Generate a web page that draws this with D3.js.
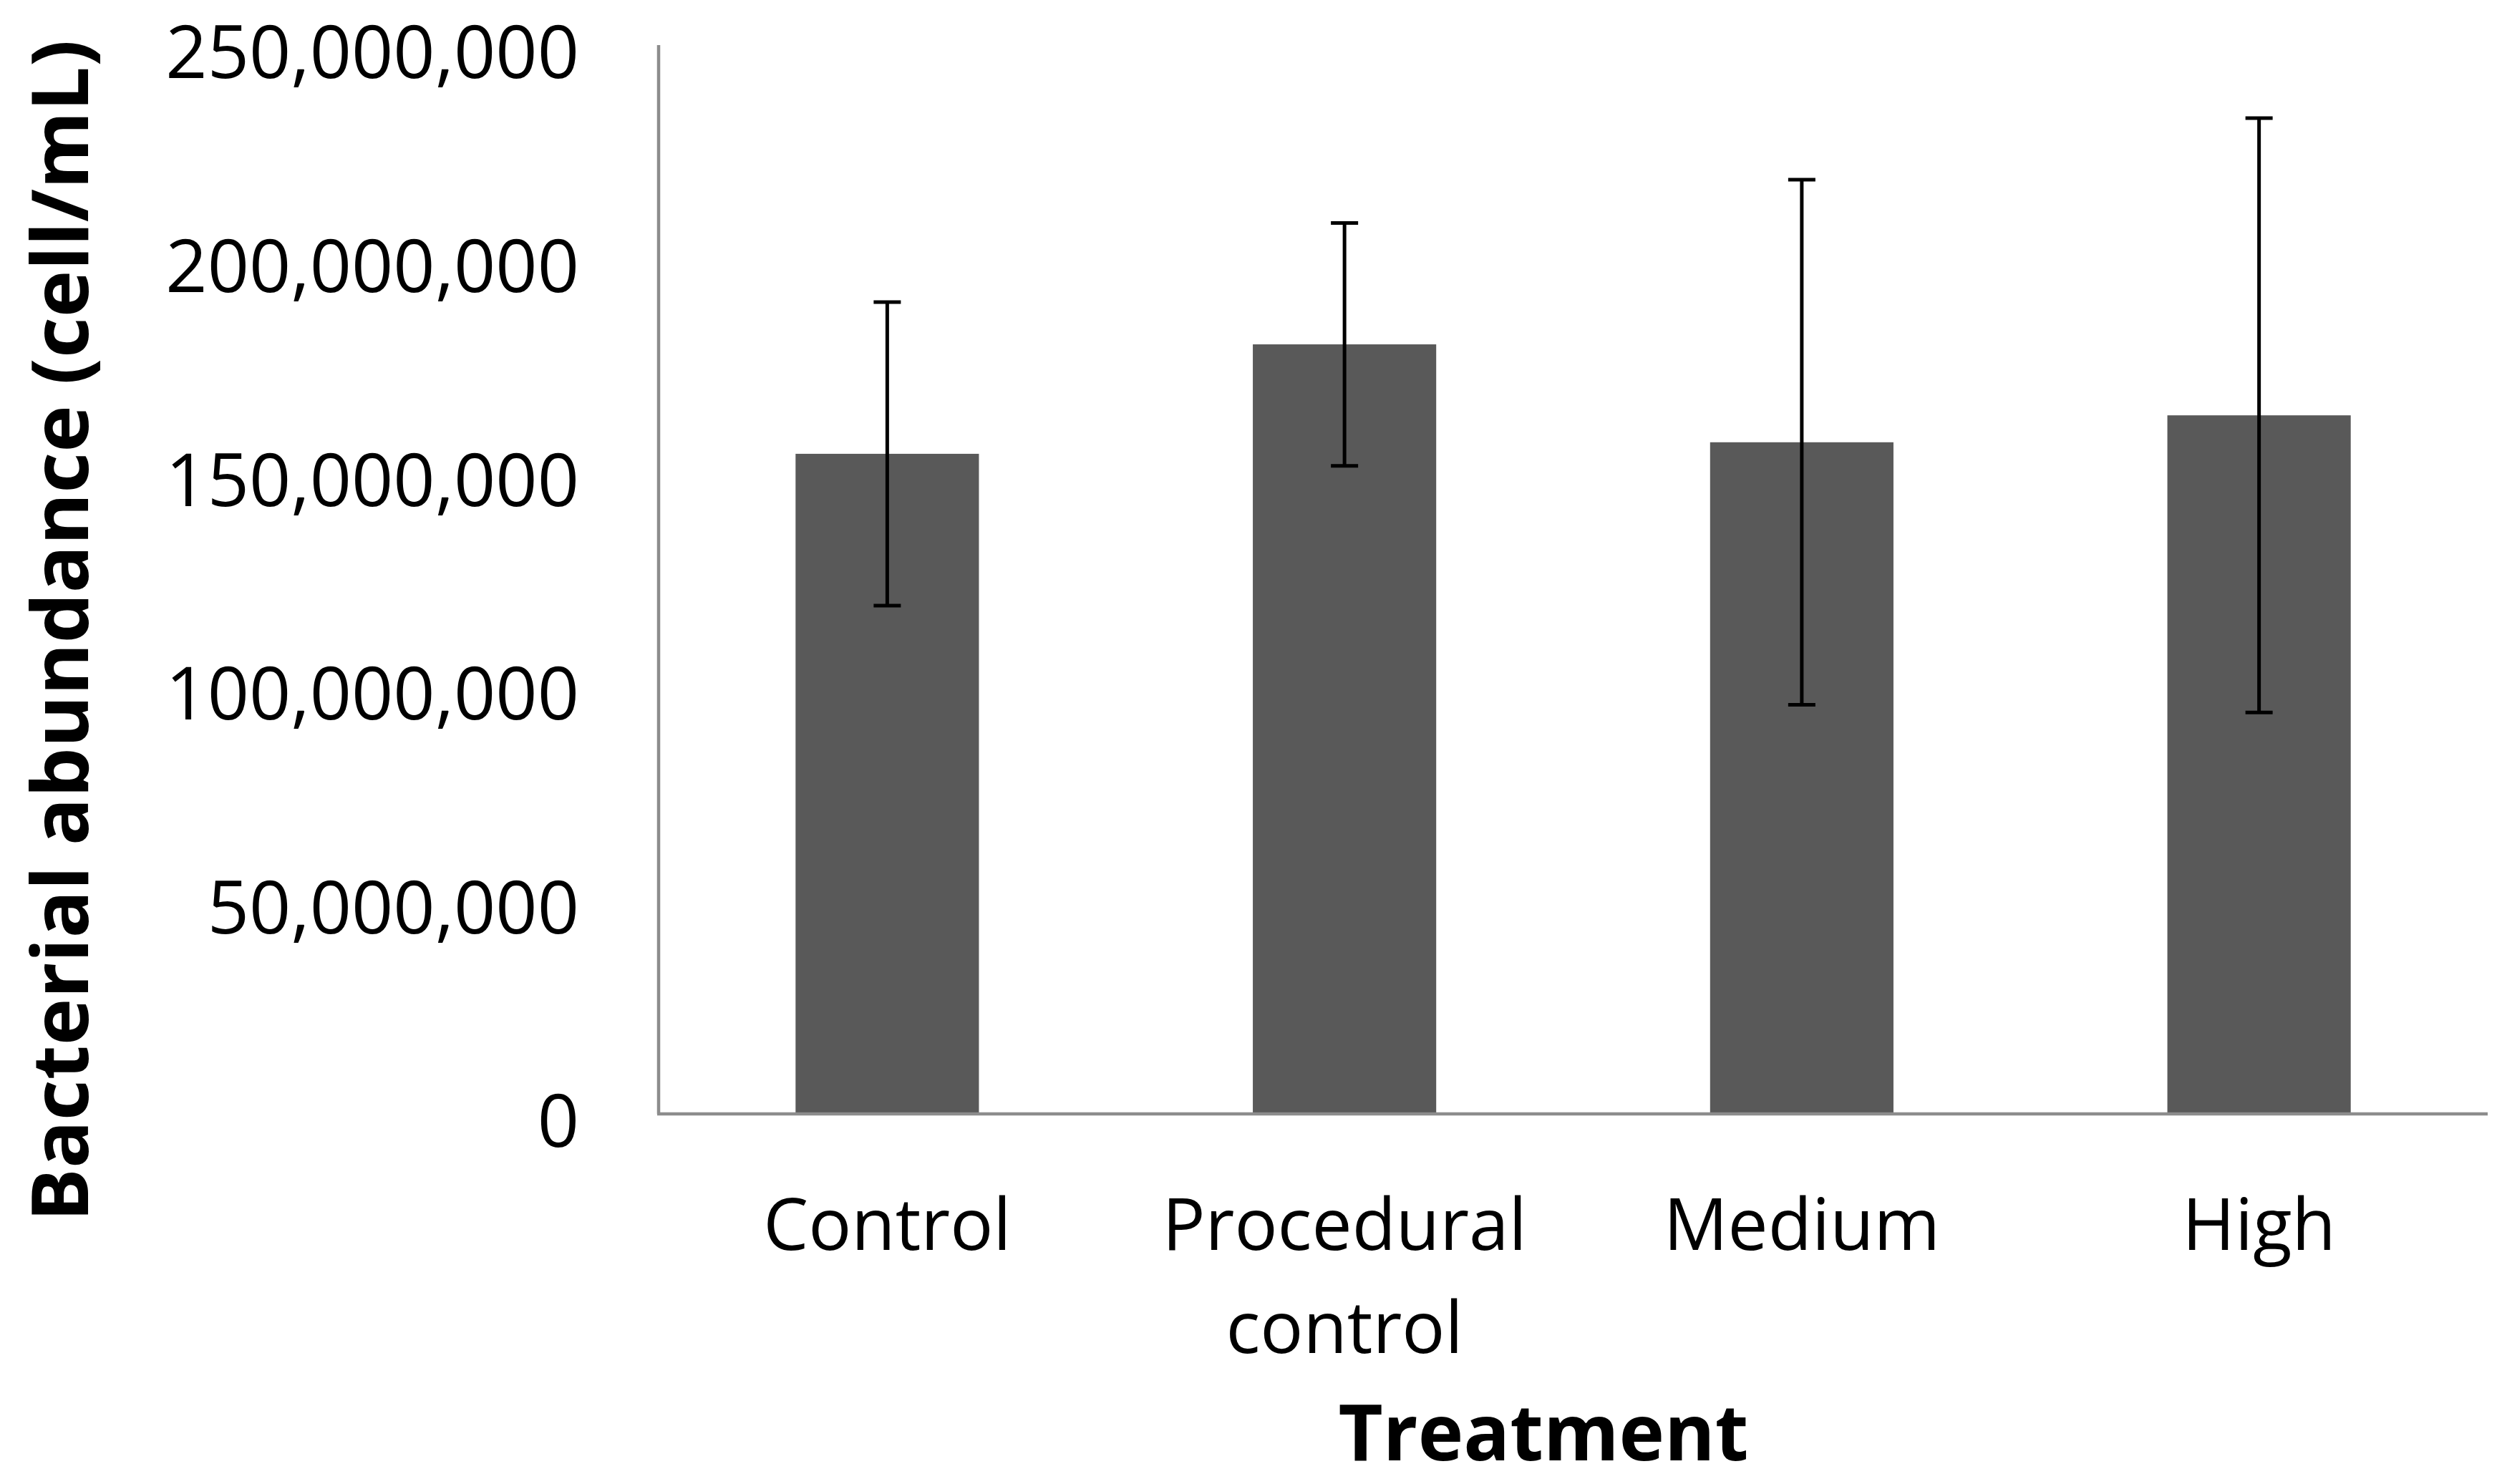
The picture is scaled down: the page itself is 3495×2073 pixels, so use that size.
<!DOCTYPE html>
<html>
<head>
<meta charset="utf-8">
<script src="https://cdn.jsdelivr.net/npm/d3@7"></script>
<style>
  html, body { margin: 0; padding: 0; background: #ffffff; }
  svg { display: block; }
</style>
</head>
<body>
<svg id="chart" width="3495" height="2073"></svg>
<script>
// ---- data ----
const categories = ["Control", "Procedural control", "Medium", "High"];
const categoryLabelLines = [["Control"], ["Procedural", "control"], ["Medium"], ["High"]];
const meanAbundance = [154.4e6, 180.0e6, 157.1e6, 163.4e6];
const errorAbundance = [35.5e6, 28.4e6, 61.4e6, 69.5e6];
const yTickValues = [0, 50e6, 100e6, 150e6, 200e6, 250e6];
const yAxisTitle = "Bacterial abundance (cell/mL)";
const xAxisTitle = "Treatment";

// ---- layout ----
const W = 3495, H = 2073;
const plot = { left: 920, right: 3475, top: 63, bottom: 1556 };
const font = "'Open Sans', 'Noto Sans', sans-serif";

const svg = d3.select("#chart");
svg.append("rect").attr("width", W).attr("height", H).attr("fill", "#ffffff");

const x = d3.scaleBand()
  .domain(categories)
  .range([plot.left, plot.right])
  .paddingInner(0.599)
  .paddingOuter(0.2995);

const y = d3.scaleLinear()
  .domain([0, 250e6])
  .range([plot.bottom, plot.top]);

const rows = categories.map((c, i) => ({ cat: c, mean: meanAbundance[i], err: errorAbundance[i], lines: categoryLabelLines[i] }));

// bars
svg.append("g").selectAll("rect").data(rows).join("rect")
  .attr("x", d => x(d.cat))
  .attr("width", x.bandwidth())
  .attr("y", d => y(d.mean))
  .attr("height", d => y(0) - y(d.mean))
  .attr("fill", "#595959");

// y axis (line only, labels)
const yAxis = d3.axisLeft(y).tickValues(yTickValues).tickFormat(d3.format(",")).tickSize(0).tickPadding(111);
const gy = svg.append("g").attr("transform", `translate(${plot.left},0)`).call(yAxis);
gy.select(".domain").attr("stroke", "#8c8c8c").attr("stroke-width", 4.5)
  .attr("d", `M0,${plot.top}V${plot.bottom}`);
gy.selectAll(".tick text")
  .attr("font-family", font).attr("font-size", 102).attr("fill", "#000")
  .attr("dy", "0.45em");

// x axis
const xAxis = d3.axisBottom(x).tickSize(0).tickFormat("");
const gx = svg.append("g").attr("transform", `translate(0,${plot.bottom})`).call(xAxis);
gx.select(".domain").attr("stroke", "#8c8c8c").attr("stroke-width", 4.5)
  .attr("d", `M${plot.left - 2},0H${plot.right}`);

// x tick labels (multi-line)
const xl = svg.append("g").selectAll("text").data(rows).join("text")
  .attr("font-family", font).attr("font-size", 100).attr("fill", "#000")
  .attr("text-anchor", "middle")
  .attr("x", d => x(d.cat) + x.bandwidth() / 2)
  .attr("y", 1746);
xl.selectAll("tspan").data(d => d.lines.map((t, k) => ({ t, k, cx: x(d.cat) + x.bandwidth() / 2 }))).join("tspan")
  .attr("x", d => d.cx)
  .attr("y", d => 1746 + d.k * 144)
  .text(d => d.t);

// error bars
const capHalf = 19;
const eb = svg.append("g").attr("stroke", "#000").attr("stroke-width", 5).attr("fill", "none");
eb.selectAll("line.v").data(rows).join("line").attr("class", "v")
  .attr("x1", d => x(d.cat) + x.bandwidth() / 2).attr("x2", d => x(d.cat) + x.bandwidth() / 2)
  .attr("y1", d => y(d.mean + d.err)).attr("y2", d => y(d.mean - d.err));
eb.selectAll("line.t").data(rows).join("line").attr("class", "t")
  .attr("x1", d => x(d.cat) + x.bandwidth() / 2 - capHalf).attr("x2", d => x(d.cat) + x.bandwidth() / 2 + capHalf)
  .attr("y1", d => y(d.mean + d.err)).attr("y2", d => y(d.mean + d.err));
eb.selectAll("line.b").data(rows).join("line").attr("class", "b")
  .attr("x1", d => x(d.cat) + x.bandwidth() / 2 - capHalf).attr("x2", d => x(d.cat) + x.bandwidth() / 2 + capHalf)
  .attr("y1", d => y(d.mean - d.err)).attr("y2", d => y(d.mean - d.err));

// axis titles
svg.append("text")
  .attr("font-family", font).attr("font-size", 110).attr("font-weight", "bold").attr("fill", "#000")
  .attr("text-anchor", "middle")
  .attr("transform", `translate(123,881) rotate(-90)`)
  .attr("textLength", 1651).attr("lengthAdjust", "spacingAndGlyphs")
  .text(yAxisTitle);

svg.append("text")
  .attr("font-family", font).attr("font-size", 110).attr("font-weight", "bold").attr("fill", "#000")
  .attr("text-anchor", "middle")
  .attr("x", 2156).attr("y", 2040)
  .attr("textLength", 573).attr("lengthAdjust", "spacingAndGlyphs")
  .text(xAxisTitle);
</script>
</body>
</html>
